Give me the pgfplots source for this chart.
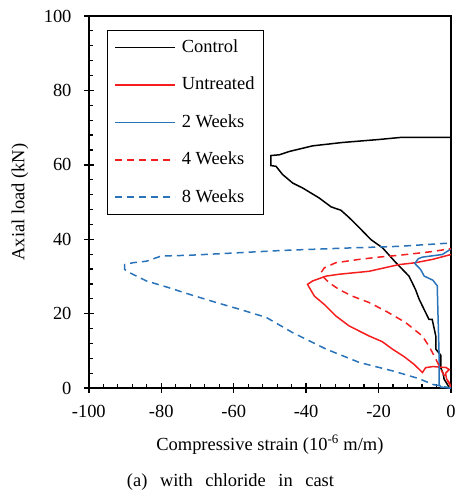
\documentclass[border=0pt]{standalone}
\usepackage{fontspec}
\setmainfont{Liberation Serif}
\usepackage{pgfplots}
\pgfplotsset{compat=1.18}
\definecolor{cred}{RGB}{245,30,30}
\definecolor{cblue}{RGB}{40,115,185}
\begin{document}
\fontsize{18.5}{22}\selectfont
\begin{tikzpicture}
\begin{axis}[
  scale only axis, width=363pt, height=373pt,
  xmin=-100, xmax=0, ymin=0, ymax=100,
  xtick={-100,-80,...,0}, ytick={0,20,...,100},
  minor tick num=4,
  xtick pos=bottom, ytick pos=left,
  tick align=inside,
  major tick length=10pt, minor tick length=4.5pt,
  major x tick style={yshift=-5pt, line width=1.4pt, black},
  major y tick style={xshift=-5pt, line width=1.4pt, black},
  minor tick style={line width=1.2pt, black},
  axis line style={line width=1.6pt, black},
  /pgf/number format/assume math mode=true,
  ticklabel style={font=\fontsize{18.5}{22}\selectfont},
  yticklabel style={xshift=-11pt},
  xticklabel style={yshift=-11pt},
  xlabel={Compressive strain (10\textsuperscript{-6} m/m)},
  ylabel={Axial load (kN)},
  label style={font=\fontsize{18.5}{22}\selectfont},
  xlabel style={at={(axis description cs:0.5,0)}, anchor=base, yshift=-62pt},
  ylabel style={at={(axis description cs:-0.19,0.5)}, anchor=center},
  legend cell align=left,
  legend image code/.code={\draw[#1, line width=1.5pt] (0pt,0pt) -- (60pt,0pt); \path (64pt,0pt);},
  legend style={at={(rel axis cs:0.0496,0.9625)}, anchor=north west,
    draw=black, line width=1.3pt, inner xsep=7pt, inner ysep=7pt,
    row sep=17.5pt, font=\fontsize{18.5}{22}\selectfont,
    nodes={text height=13pt, text depth=3pt, inner sep=2pt}},
]
\addplot[black, line width=1.5pt] coordinates {
(-0.3,0) (-0.6,0.3) (-1,1) (-1.9,2.4) (-2.2,4) (-2.8,5.4) (-2.8,8.8) (-4.2,10.5) (-4.2,14) (-5.2,18.5) (-6.1,18.5) (-7.9,22.1) (-8.8,23.9) (-9.8,26.5) (-11.6,30.1) (-14.3,32.8) (-15.2,33.7) (-18.9,37.7) (-22.1,39.9) (-25.3,43.1) (-28.1,45.8) (-30.4,47.8) (-33.1,48.7) (-36.4,51.1) (-41,53.8) (-43.7,55.1) (-46.5,57.4) (-48.3,59.6) (-49.7,59.8) (-49.7,62.5) (-47.4,62.7) (-44.6,63.6) (-38.2,65.1) (-30,66) (-20,66.8) (-13.5,67.4) (0,67.4)};
\addlegendentry{Control}
\addplot[cred, line width=1.5pt] coordinates {
(0,0) (-0.5,1.5) (-1.2,2.4) (-1.5,4) (-0.5,5) (-1.5,5.6) (-2.5,5.6) (-5,5.8) (-7,5.5) (-7.9,4.2) (-10.2,6.4) (-13,8.5) (-16.2,10.5) (-19,12.5) (-22.6,14) (-28.1,16.7) (-31.8,19.4) (-35,22.5) (-37.7,24.7) (-39.1,27) (-39.6,27.9) (-38.2,28.8) (-34.5,30.1) (-30.9,30.6) (-22.6,31.4) (-16.2,32.8) (-14.3,33.2) (-9.8,33.7) (-5.1,34.6) (0,35.9)};
\addlegendentry{Untreated}
\addplot[cblue, line width=1.5pt] coordinates {
(0,0) (-2.8,0.3) (-3.3,1) (-3.3,9.6) (-3.6,20) (-3.8,27.5) (-5,29) (-7.4,30.1) (-8.4,31.9) (-10,33.5) (-9,34.8) (-7.9,35.2) (-2.4,35.9) (0,37.4)};
\addlegendentry{2 Weeks}
\addplot[cred, line width=1.5pt, dash pattern=on 7pt off 5pt] coordinates {
(0,0.5) (-1,2) (-2.5,4.5) (-4.2,7.8) (-5.1,9.5) (-6.1,11.3) (-7.9,14) (-12.5,17.6) (-18,20.7) (-22.6,23) (-27.2,24.7) (-30.9,26.5) (-33.6,28.3) (-35.5,30.1) (-35.9,31) (-35,32.3) (-31.8,33.7) (-25.3,34.6) (-20,35.2) (-14.3,35.7) (-5.1,36.7) (0,37.5)};
\addlegendentry{4 Weeks}
\addplot[cblue, line width=1.5pt, dash pattern=on 7pt off 5pt] coordinates {
(0,0) (-1.5,0.3) (-5,1) (-9,2.6) (-16,4.6) (-25.3,6.9) (-34.5,10.5) (-43.7,14.9) (-51,19) (-58.4,21.2) (-64.8,23) (-72.2,25.2) (-78.6,27.2) (-84.1,28.8) (-88.7,31) (-90.1,31.9) (-90.1,33.2) (-87.8,33.7) (-84.1,34.1) (-80,35.5) (-72.2,35.7) (-60.2,36.3) (-46.5,37) (-30,37.6) (-14.3,38.1) (0,39)};
\addlegendentry{8 Weeks}
\end{axis}
\node[anchor=base, font=\fontsize{18.5}{22}\selectfont] at (142pt,-99pt) {(a)\hspace{0.68em}with\hspace{0.68em}chloride\hspace{0.68em}in\hspace{0.68em}cast};
\path[use as bounding box] (-89pt,-108pt) rectangle (371pt,389pt);
\end{tikzpicture}
\end{document}
